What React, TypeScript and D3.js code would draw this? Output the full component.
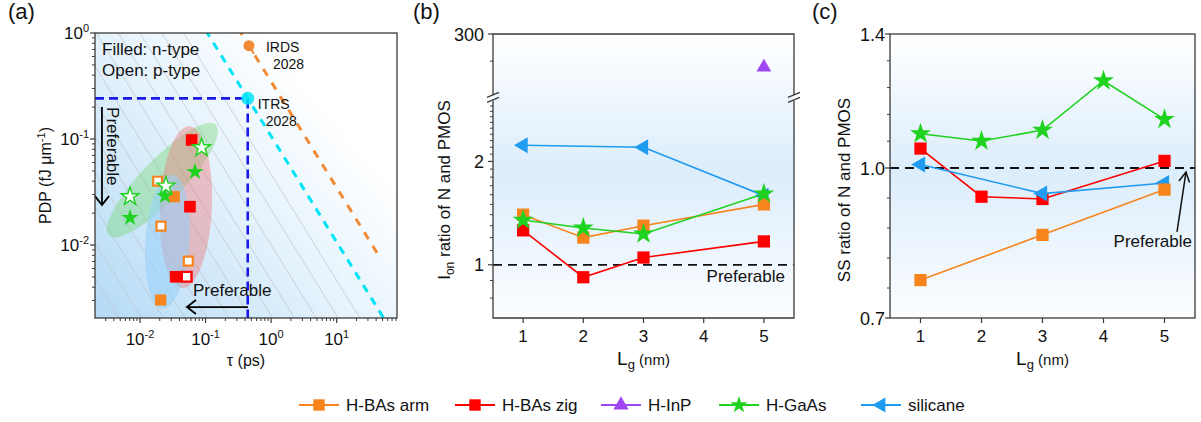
import React from 'react';
import * as d3 from 'd3';

const FONT = "'Liberation Sans', Arial, Helvetica, sans-serif";

// ---------- colours ----------
const C_ARM = '#f7841d';
const C_ZIG = '#ff0000';
const C_INP = '#a046f0';
const C_GAAS = '#1fd21f';
const C_SIL = '#1f9bf0';
const C_CYAN = '#00e4f8';
const C_IRDS = '#f08a34';
const C_RECT = '#1a1ae6';

// ---------- panel (a) data: tau (ps) vs PDP (fJ/um) ----------
const armNTau = [0.0333, 0.0207];
const armNPdp = [0.0286, 0.00303];
const armPTau = [0.0186, 0.0209, 0.0546];
const armPPdp = [0.040, 0.0151, 0.00706];
const zigNTau = [0.0614, 0.0578, 0.0350];
const zigNPdp = [0.098, 0.023, 0.00502];
const zigPTau = [0.0515];
const zigPPdp = [0.00502];
const gaasNTau = [0.069, 0.024, 0.00705];
const gaasNPdp = [0.049, 0.029, 0.0181];
const gaasPTau = [0.087, 0.0249, 0.00705];
const gaasPPdp = [0.0828, 0.036, 0.0286];
const irdsTau = [0.459];
const irdsPdp = [0.759];
const itrsTau = [0.44];
const itrsPdp = [0.242];
// constant energy-delay levels (PDP*tau)
const edpGridLevels = d3.range(1, 15).map((k) => Math.pow(10, -1 - k / 3));
const edpItrs = 0.1065;
const edpIrds = 0.348;
const irdsLineTauMax = 45;
// shaded groups: centre (tau, pdp), semi-axes px, angle
const ellTau = [0.022, 0.0502, 0.0262];
const ellPdp = [0.041, 0.0228, 0.0108];
const ellRx = [77, 26, 22];
const ellRy = [21, 81, 67];
const ellAng = [-46, 2.5, 4];
const ellFill = ['rgba(115,215,115,0.40)', 'rgba(240,115,115,0.40)', 'rgba(150,208,248,0.55)'];
const aXTicks = [0.01, 0.1, 1, 10];
const aXTickExp = ['-2', '-1', '0', '1'];
const aYTicks = [0.01, 0.1, 1];
const aYTickExp = ['-2', '-1', '0'];

// ---------- panel (b) data: Ion ratio ----------
const lgArmB = [1, 2, 3, 5];
const ionArm = [1.40, 1.20, 1.30, 1.50];
const lgZigB = [1, 2, 3, 5];
const ionZig = [1.26, 0.92, 1.05, 1.17];
const lgGaAsB = [1, 2, 3, 5];
const ionGaAs = [1.35, 1.28, 1.23, 1.61];
const lgSilB = [1, 3, 5];
const ionSil = [2.23, 2.20, 1.59];
const lgInPB = [5];
const ionInP = [240];
const ionTicksLow = [1, 2];
const ionTicksHigh = [300];
const ionMinorLow = [0.8, 0.9, 1.1, 1.2, 1.3, 1.4, 1.5, 1.6, 1.7, 1.8, 1.9, 2.1, 2.2, 2.3, 2.4, 2.5, 2.6, 2.7, 2.8, 2.9];
const ionMinorHigh = [250];
const lgTicks = [1, 2, 3, 4, 5];

// ---------- panel (c) data: SS ratio ----------
const lgArmC = [1, 3, 5];
const ssArm = [0.766, 0.853, 0.950];
const lgZigC = [1, 2, 3, 5];
const ssZig = [1.05, 0.934, 0.929, 1.018];
const lgGaAsC = [1, 2, 3, 4, 5];
const ssGaAs = [1.09, 1.07, 1.10, 1.245, 1.13];
const lgSilC = [1, 3, 5];
const ssSil = [1.009, 0.941, 0.965];
const ssTicks = [0.7, 1.0, 1.4];
const ssTickLabels = ['0.7', '1.0', '1.4'];

// ---------- legend ----------
const legNames = ['H-BAs arm', 'H-BAs zig', 'H-InP', 'H-GaAs', 'silicane'];
const legColors = [C_ARM, C_ZIG, C_INP, C_GAAS, C_SIL];
const legKinds = ['square', 'square', 'triU', 'star', 'triL'];
const legX = [319, 475, 621, 739, 881];

type Kind = 'square' | 'star' | 'triU' | 'triL' | 'circle';

function symPath(kind: Kind, size: number): string {
  const t =
    kind === 'square' ? d3.symbolSquare :
    kind === 'star' ? d3.symbolStar :
    kind === 'circle' ? d3.symbolCircle : d3.symbolTriangle;
  return d3.symbol().type(t).size(size)() as string;
}

function Mark(props: { kind: Kind; x: number; y: number; size: number; fill: string; stroke?: string; sw?: number }) {
  const { kind, x, y, size, fill, stroke, sw } = props;
  const rot = kind === 'triL' ? ' rotate(-90)' : '';
  return (
    <path
      d={symPath(kind, size)}
      transform={`translate(${x},${y})${rot}`}
      fill={fill}
      stroke={stroke || 'none'}
      strokeWidth={sw || 0}
      strokeLinejoin="miter"
    />
  );
}

function logMinor(d0: number, d1: number): number[] {
  const out: number[] = [];
  for (let e = Math.floor(Math.log10(d0)); e <= Math.ceil(Math.log10(d1)); e++) {
    for (let m = 2; m <= 9; m++) {
      const v = m * Math.pow(10, e);
      if (v >= d0 && v <= d1) out.push(v);
    }
  }
  return out;
}

const starSize = (R: number) => (R * R) / 0.8908130915;

export default function App() {
  const W = 1201, H = 422;
  const axisCol = '#3a3a3a';

  // ---------------- panel (a) ----------------
  const aL = 95, aR = 397, aT = 33, aB = 318;
  const xA = d3.scaleLog().domain([0.00206, 83.2]).range([aL, aR]);
  const yA = d3.scaleLog().domain([0.00205, 1]).range([aB, aT]);
  const [xa0, xa1] = xA.domain();
  const lineA = d3.line<[number, number]>().x((d) => xA(d[0])).y((d) => yA(d[1]));
  const edpLine = (c: number, t1 = xa1) => lineA([[xa0, c / xa0], [t1, c / t1]]) as string;

  // ---------------- panel (b) ----------------
  const bL = 493, bR = 794, bT = 34, bB = 318;
  const xB = d3.scaleLinear().domain([0.5, 5.5]).range([bL, bR]);
  const yBlo = d3.scaleLog().domain([0.7, 3]).range([bB, 101]);
  const yBhi = d3.scaleLog().domain([200, 300]).range([94.4, bT]);
  const breakY = 97.8;
  const lineB = d3.line<[number, number]>().x((d) => xB(d[0])).y((d) => yBlo(d[1]));

  // ---------------- panel (c) ----------------
  const cL = 890, cR = 1195, cT = 34, cB = 318;
  const xC = d3.scaleLinear().domain([0.5, 5.5]).range([cL, cR]);
  const yC = d3.scaleLog().domain([0.7, 1.0, 1.4]).range([cB, 168, cT]);
  const lineC = d3.line<[number, number]>().x((d) => xC(d[0])).y((d) => yC(d[1]));
  const ssMinor: number[] = [];
  for (let i = 0; i < ssTicks.length - 1; i++) {
    const a = ssTicks[i], b = ssTicks[i + 1];
    for (let k = 1; k <= 4; k++) ssMinor.push(a * Math.pow(b / a, k / 5));
  }

  const zip = (xs: number[], ys: number[]) => xs.map((x, i) => [x, ys[i]] as [number, number]);

  const sqS = 150, starS = starSize(11), triS = 95;

  const seriesB = [
    { xs: lgZigB, ys: ionZig, c: C_ZIG, kind: 'square' as Kind, s: sqS },
    { xs: lgSilB, ys: ionSil, c: C_SIL, kind: 'triL' as Kind, s: 110 },
    { xs: lgArmB, ys: ionArm, c: C_ARM, kind: 'square' as Kind, s: sqS },
    { xs: lgGaAsB, ys: ionGaAs, c: C_GAAS, kind: 'star' as Kind, s: starS },
  ];
  const seriesC = [
    { xs: lgZigC, ys: ssZig, c: C_ZIG, kind: 'square' as Kind, s: sqS },
    { xs: lgSilC, ys: ssSil, c: C_SIL, kind: 'triL' as Kind, s: 110 },
    { xs: lgArmC, ys: ssArm, c: C_ARM, kind: 'square' as Kind, s: sqS },
    { xs: lgGaAsC, ys: ssGaAs, c: C_GAAS, kind: 'star' as Kind, s: starS },
  ];

  const tickFont = 17;

  return (
    <svg width={W} height={H} viewBox={`0 0 ${W} ${H}`} style={{ position: 'absolute', left: 0, top: 0, background: '#fff' }} fontFamily={FONT}>
      <defs>
        <linearGradient id="gA" x1="0" y1="0.95" x2="0.8" y2="0.3">
          <stop offset="0" stopColor="#b6dbf6" />
          <stop offset="0.55" stopColor="#e2f1fc" />
          <stop offset="1" stopColor="#ffffff" />
        </linearGradient>
        <linearGradient id="gBC" x1="0" y1="0" x2="0" y2="1">
          <stop offset="0" stopColor="#ffffff" />
          <stop offset="0.48" stopColor="#dcedfb" />
          <stop offset="1" stopColor="#fbfdff" />
        </linearGradient>
        <clipPath id="clipA"><rect x={aL} y={aT} width={aR - aL} height={aB - aT} /></clipPath>
      </defs>
      <rect width={W} height={H} fill="#fff" />

      {/* ================= PANEL (a) ================= */}
      <rect x={aL} y={aT} width={aR - aL} height={aB - aT} fill="url(#gA)" />
      <g clipPath="url(#clipA)">
        {edpGridLevels.map((c, i) => (
          <path key={i} d={edpLine(c)} stroke="#c2c5c9" strokeWidth={0.75} fill="none" />
        ))}
        {ellTau.map((t, i) => (
          <ellipse key={i} cx={xA(t)} cy={yA(ellPdp[i])} rx={ellRx[i]} ry={ellRy[i]}
            transform={`rotate(${ellAng[i]} ${xA(t)} ${yA(ellPdp[i])})`} fill={ellFill[i]} />
        ))}
        <path d={edpLine(edpItrs)} stroke={C_CYAN} strokeWidth={3} strokeDasharray="8 7" fill="none" />
        <path d={edpLine(edpIrds, irdsLineTauMax)} stroke={C_IRDS} strokeWidth={3} strokeDasharray="8 8" fill="none" />
        {/* preferable region */}
        <path d={`M${aL},${yA(itrsPdp[0])}H${xA(itrsTau[0])}V${aB}`} stroke={C_RECT} strokeWidth={2.6} strokeDasharray="9 5" fill="none" />
        {/* roadmap points */}
        {irdsTau.map((t, i) => (
          <g key={'ir' + i}>
            <line x1={xA(t)} y1={yA(irdsPdp[i])} x2={xA(t) + 5} y2={yA(irdsPdp[i]) + 8} stroke={C_IRDS} strokeWidth={2} />
            <circle cx={xA(t)} cy={yA(irdsPdp[i])} r={5.5} fill={C_IRDS} />
          </g>
        ))}
        {itrsTau.map((t, i) => (
          <circle key={'it' + i} cx={xA(t)} cy={yA(itrsPdp[i])} r={6.5} fill={C_CYAN} opacity={0.85} />
        ))}
        {/* data points */}
        {zip(armNTau, armNPdp).map((d, i) => <Mark key={'an' + i} kind="square" x={xA(d[0])} y={yA(d[1])} size={125} fill={C_ARM} />)}
        {zip(zigNTau, zigNPdp).map((d, i) => <Mark key={'zn' + i} kind="square" x={xA(d[0])} y={yA(d[1])} size={135} fill={C_ZIG} />)}
        {zip(armPTau, armPPdp).map((d, i) => <Mark key={'ap' + i} kind="square" x={xA(d[0])} y={yA(d[1])} size={80} fill="#fff" stroke={C_ARM} sw={2.2} />)}
        {zip(zigPTau, zigPPdp).map((d, i) => <Mark key={'zp' + i} kind="square" x={xA(d[0])} y={yA(d[1])} size={95} fill="#fff" stroke={C_ZIG} sw={2.4} />)}
        {zip(gaasNTau, gaasNPdp).map((d, i) => <Mark key={'gn' + i} kind="star" x={xA(d[0])} y={yA(d[1])} size={starSize(9)} fill={C_GAAS} />)}
        {zip(gaasPTau, gaasPPdp).map((d, i) => <Mark key={'gp' + i} kind="star" x={xA(d[0])} y={yA(d[1])} size={starSize(9.5)} fill="#fff" stroke={C_GAAS} sw={1.4} />)}
      </g>
      {/* annotations (a) */}
      <text x={102} y={55} fontSize={17} fill="#111">Filled: n-type</text>
      <text x={102} y={76} fontSize={17} fill="#111">Open: p-type</text>
      <text x={xA(irdsTau[0]) + 17} y={52} fontSize={14} fill="#111">IRDS</text>
      <text x={xA(irdsTau[0]) + 24} y={69} fontSize={14} fill="#111">2028</text>
      <text x={xA(itrsTau[0]) + 10} y={109} fontSize={14} fill="#111">ITRS</text>
      <text x={xA(itrsTau[0]) + 18} y={126} fontSize={14} fill="#111">2028</text>
      {/* vertical arrow */}
      <line x1={xA(0.00263)} y1={yA(0.2)} x2={xA(0.00263)} y2={yA(0.0238)} stroke="#000" strokeWidth={1.8} />
      <polyline points={`${xA(0.00263) - 7},${yA(0.0238) - 9} ${xA(0.00263)},${yA(0.0238)} ${xA(0.00263) + 7},${yA(0.0238) - 9}`} fill="none" stroke="#000" strokeWidth={1.8} />
      <text transform={`translate(${xA(0.003) + 1},${yA(0.2)}) rotate(90)`} fontSize={17} fill="#111">Preferable</text>
      {/* horizontal arrow */}
      <line x1={xA(0.443)} y1={yA(0.0026)} x2={xA(0.052)} y2={yA(0.0026)} stroke="#000" strokeWidth={1.8} />
      <polyline points={`${xA(0.052) + 9},${yA(0.0026) - 7} ${xA(0.052)},${yA(0.0026)} ${xA(0.052) + 9},${yA(0.0026) + 7}`} fill="none" stroke="#000" strokeWidth={1.8} />
      <text x={xA(0.0643)} y={296} fontSize={17} fill="#111">Preferable</text>
      {/* frame & axes (a) */}
      <rect x={aL} y={aT} width={aR - aL} height={aB - aT} fill="none" stroke={axisCol} strokeWidth={1.3} />
      {aXTicks.map((t, i) => (
        <g key={'axt' + i}>
          <line x1={xA(t)} x2={xA(t)} y1={aB} y2={aB + 5} stroke={axisCol} strokeWidth={1.2} />
          <text x={xA(t)} y={345} fontSize={tickFont} textAnchor="middle" fill="#111">
            10<tspan dy={-7} fontSize={11}>{aXTickExp[i]}</tspan>
          </text>
        </g>
      ))}
      {logMinor(xa0, xa1).map((t, i) => (
        <line key={'axm' + i} x1={xA(t)} x2={xA(t)} y1={aB} y2={aB + 3} stroke={axisCol} strokeWidth={1} />
      ))}
      {aYTicks.map((t, i) => (
        <g key={'ayt' + i}>
          <line x1={aL - 5} x2={aL} y1={yA(t)} y2={yA(t)} stroke={axisCol} strokeWidth={1.2} />
          <text x={89} y={yA(t) + 6} fontSize={tickFont} textAnchor="end" fill="#111">
            10<tspan dy={-7} fontSize={11}>{aYTickExp[i]}</tspan>
          </text>
        </g>
      ))}
      {logMinor(yA.domain()[0], yA.domain()[1]).map((t, i) => (
        <line key={'aym' + i} x1={aL - 3} x2={aL} y1={yA(t)} y2={yA(t)} stroke={axisCol} strokeWidth={1} />
      ))}
      <text x={(aL + aR) / 2} y={366} fontSize={16} textAnchor="middle" fill="#111">τ (ps)</text>
      <text transform={`translate(51,${(aT + aB) / 2}) rotate(-90)`} fontSize={16} textAnchor="middle" fill="#111">
        PDP (fJ μm<tspan dy={-6} fontSize={11}>-1</tspan><tspan dy={6}>)</tspan>
      </text>
      <text x={8} y={19} fontSize={22} fill="#111">(a)</text>

      {/* ================= PANEL (b) ================= */}
      <rect x={bL} y={bT} width={bR - bL} height={bB - bT} fill="url(#gBC)" />
      <line x1={bL} x2={bR} y1={yBlo(1)} y2={yBlo(1)} stroke="#111" strokeWidth={1.8} strokeDasharray="9 6" />
      <text x={785} y={282} fontSize={17} textAnchor="end" fill="#111">Preferable</text>
      {seriesB.map((s, k) => (
        <g key={'sb' + k}>
          <path d={lineB(zip(s.xs, s.ys)) as string} stroke={s.c} strokeWidth={1.6} fill="none" />
          {zip(s.xs, s.ys).map((d, i) => (
            <Mark key={i} kind={s.kind} x={xB(d[0])} y={yBlo(d[1])} size={s.s} fill={s.c} />
          ))}
        </g>
      ))}
      {zip(lgInPB, ionInP).map((d, i) => (
        <Mark key={'inp' + i} kind="triU" x={xB(d[0])} y={yBhi(d[1])} size={triS} fill={C_INP} />
      ))}
      {/* frame with break */}
      <g stroke={axisCol} strokeWidth={1.3} fill="none">
        <path d={`M${bL},${breakY - 3}V${bT}H${bR}V${breakY - 3}`} />
        <path d={`M${bL},${breakY + 3}V${bB}H${bR}V${breakY + 3}`} />
        {[bL, bR].map((x, i) => (
          <g key={'brk' + i}>
            <line x1={x - 6} y1={breakY - 0.5} x2={x + 6} y2={breakY - 5.5} />
            <line x1={x - 6} y1={breakY + 4.5} x2={x + 6} y2={breakY - 0.5} />
          </g>
        ))}
      </g>
      {lgTicks.map((t, i) => (
        <g key={'bxt' + i}>
          <line x1={xB(t)} x2={xB(t)} y1={bB} y2={bB + 5} stroke={axisCol} strokeWidth={1.2} />
          <text x={xB(t)} y={342} fontSize={tickFont} textAnchor="middle" fill="#111">{t}</text>
        </g>
      ))}
      {ionTicksLow.map((t, i) => (
        <g key={'byt' + i}>
          <line x1={bL - 5} x2={bL} y1={yBlo(t)} y2={yBlo(t)} stroke={axisCol} strokeWidth={1.2} />
          <text x={484} y={yBlo(t) + 6.5} fontSize={18} textAnchor="end" fill="#111">{t}</text>
        </g>
      ))}
      {ionTicksHigh.map((t, i) => (
        <g key={'byh' + i}>
          <line x1={bL - 5} x2={bL} y1={yBhi(t)} y2={yBhi(t)} stroke={axisCol} strokeWidth={1.2} />
          <text x={484} y={yBhi(t) + 6.5} fontSize={18} textAnchor="end" fill="#111">{t}</text>
        </g>
      ))}
      {ionMinorLow.map((t, i) => (
        <line key={'bym' + i} x1={bL - 3} x2={bL} y1={yBlo(t)} y2={yBlo(t)} stroke={axisCol} strokeWidth={1} />
      ))}
      {ionMinorHigh.map((t, i) => (
        <line key={'byhm' + i} x1={bL - 3} x2={bL} y1={yBhi(t)} y2={yBhi(t)} stroke={axisCol} strokeWidth={1} />
      ))}
      <text x={(bL + bR) / 2} y={365} textAnchor="middle" fill="#111">
        <tspan fontSize={19}>L</tspan><tspan fontSize={13} dy={4}>g</tspan><tspan fontSize={15} dy={-4}> (nm)</tspan>
      </text>
      <text transform={`translate(450,190) rotate(-90)`} textAnchor="middle" fill="#111" fontSize={17}>
        I<tspan fontSize={12} dy={4}>on</tspan><tspan dy={-4}> ratio of N and PMOS</tspan>
      </text>
      <text x={413} y={19} fontSize={22} fill="#111">(b)</text>

      {/* ================= PANEL (c) ================= */}
      <rect x={cL} y={cT} width={cR - cL} height={cB - cT} fill="url(#gBC)" />
      <line x1={cL} x2={cR} y1={yC(1)} y2={yC(1)} stroke="#111" strokeWidth={1.8} strokeDasharray="9 6" />
      {seriesC.map((s, k) => (
        <g key={'sc' + k}>
          <path d={lineC(zip(s.xs, s.ys)) as string} stroke={s.c} strokeWidth={1.6} fill="none" />
          {zip(s.xs, s.ys).map((d, i) => (
            <Mark key={i} kind={s.kind} x={xC(d[0])} y={yC(d[1])} size={s.s} fill={s.c} />
          ))}
        </g>
      ))}
      {/* preferable arrow */}
      <line x1={xC(5.205)} y1={yC(0.859)} x2={xC(5.352)} y2={yC(0.9905)} stroke="#111" strokeWidth={1.5} />
      <path d={`M${xC(5.352) - 7},${yC(0.9905) + 9}L${xC(5.352)},${yC(0.9905)}L${xC(5.352) + 3.5},${yC(0.9905) + 10.5}`} stroke="#111" strokeWidth={1.5} fill="none" />
      <text x={1192} y={247} fontSize={17} textAnchor="end" fill="#111">Preferable</text>
      <rect x={cL} y={cT} width={cR - cL} height={cB - cT} fill="none" stroke={axisCol} strokeWidth={1.3} />
      {lgTicks.map((t, i) => (
        <g key={'cxt' + i}>
          <line x1={xC(t)} x2={xC(t)} y1={cB} y2={cB + 5} stroke={axisCol} strokeWidth={1.2} />
          <text x={xC(t)} y={342} fontSize={tickFont} textAnchor="middle" fill="#111">{t}</text>
        </g>
      ))}
      {ssTicks.map((t, i) => (
        <g key={'cyt' + i}>
          <line x1={cL - 5} x2={cL} y1={yC(t)} y2={yC(t)} stroke={axisCol} strokeWidth={1.2} />
          <text x={885} y={yC(t) + 6.5} fontSize={18} textAnchor="end" fill="#111">{ssTickLabels[i]}</text>
        </g>
      ))}
      {ssMinor.map((t, i) => (
        <line key={'cym' + i} x1={cL - 3} x2={cL} y1={yC(t)} y2={yC(t)} stroke={axisCol} strokeWidth={1} />
      ))}
      <text x={(cL + cR) / 2} y={365} textAnchor="middle" fill="#111">
        <tspan fontSize={19}>L</tspan><tspan fontSize={13} dy={4}>g</tspan><tspan fontSize={15} dy={-4}> (nm)</tspan>
      </text>
      <text transform={`translate(850,190) rotate(-90)`} textAnchor="middle" fill="#111" fontSize={17}>
        SS ratio of N and PMOS
      </text>
      <text x={812} y={19} fontSize={22} fill="#111">(c)</text>

      {/* ================= LEGEND ================= */}
      {legNames.map((n, i) => (
        <g key={'leg' + i}>
          <line x1={legX[i] - 20} x2={legX[i] + 20} y1={405} y2={405} stroke={legColors[i]} strokeWidth={2} />
          <Mark kind={legKinds[i] as Kind} x={legX[i]} y={405}
            size={legKinds[i] === 'star' ? starSize(9) : legKinds[i] === 'square' ? 130 : 100} fill={legColors[i]} />
          <text x={legX[i] + 27} y={411} fontSize={17} fill="#111">{n}</text>
        </g>
      ))}
    </svg>
  );
}
